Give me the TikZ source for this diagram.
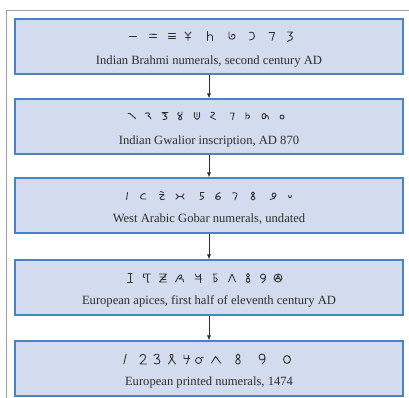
\documentclass[tikz,border=0pt]{standalone}
\usepackage{fontspec}
\setmainfont{Liberation Serif}
\usetikzlibrary{arrows.meta}
\definecolor{boxfill}{RGB}{211,220,238}
\definecolor{boxline}{RGB}{72,132,194}
\definecolor{framegray}{RGB}{160,160,160}
\definecolor{ink}{RGB}{45,45,45}
\tikzset{
  box/.style={draw=boxline, fill=boxfill, line width=1.1pt, minimum width=388pt, minimum height=55pt, inner sep=0pt},
  captext/.style={font=\fontsize{12.6}{14}\selectfont, text=ink, inner sep=0pt},
  glyph/.style={draw=ink, line width=0.85pt, line cap=round, line join=round},
  arr/.style={draw=ink, line width=0.7pt, -{Latex[length=5pt,width=4pt]}},
}
\begin{document}
\begin{tikzpicture}[x=1pt,y=-1pt]
\useasboundingbox (0,0) rectangle (409,398);
\draw[framegray, line width=0.9pt] (6,398) -- (6,10) -- (409,10);

\node[box] (b1) at (209,46.5) {};
\node[box] (b2) at (209,126.5) {};
\node[box] (b3) at (209,205.5) {};
\node[box] (b4) at (209,287.5) {};
\node[box] (b5) at (209,368.5) {};

\draw[arr] (b1.south) -- (b2.north);
\draw[arr] (b2.south) -- (b3.north);
\draw[arr] (b3.south) -- (b4.north);
\draw[arr] (b4.south) -- (b5.north);

\node[captext] (c1) at (209,61) {Indian Brahmi numerals, second century AD};
\node[captext] (c2) at (209,141) {Indian Gwalior inscription, AD 870};
\node[captext] (c3) at (209,219) {West Arabic Gobar numerals, undated};
\node[captext] (c4) at (209,301) {European apices, first half of eleventh century AD};
\node[captext] (c5) at (209,382) {European printed numerals, 1474};

% Row 1: Brahmi
\draw[glyph, shift={(133,36)}] (-3.5,0.5) -- (3.5,0.5);
\draw[glyph, shift={(153,36)}] (-3.5,-1.8) .. controls (0,-2.6) .. (3.5,-1.5) (-3.5,1.5) -- (3.5,1.5);
\draw[glyph, shift={(172,36)}] (-3.5,-2.5) -- (3.5,-2.5) (-3.5,0) -- (3.5,0) (-3.5,2.5) -- (3.5,2.5);
\draw[glyph, shift={(188,36)}] (-3,-4) -- (0,-0.5) -- (3,-4) (0,-0.5) -- (0,4.5) (-2.5,1.5) -- (2.5,1.5);
\draw[glyph, shift={(210,36)}] (-2.5,-4.5) -- (-2.5,4.5) (-2.5,0.5) .. controls (-1,-2) and (2.5,-2) .. (2.5,1) -- (2.5,4.5);
\draw[glyph, shift={(232,36)}] (-3,-4) -- (-3,1) .. controls (-3,4) and (3,4) .. (3,0.5) .. controls (3,-2.5) and (-0.5,-2.5) .. (-0.5,0.5);
\draw[glyph, shift={(252,36)}] (-2.5,-3.5) .. controls (1,-5) and (3,-2) .. (2.5,0.5) .. controls (2,3) and (0,4) .. (-2.5,4);
\draw[glyph, shift={(272,36)}] (-3,-3.5) -- (2.5,-3.5) .. controls (1.5,0) and (0.5,2) .. (0,4.5);
\draw[glyph, shift={(290,36)}] (-2.5,-4) -- (2.5,-4) -- (-0.5,-0.5) .. controls (3.5,-0.5) and (3.5,4.5) .. (-1,4.5) .. controls (-2,4.7) .. (-2.5,5.5);

% Row 2: Gwalior
\draw[glyph, shift={(132,116)}] (-4,-2.5) .. controls (-3,-3.2) .. (-2,-2.5) -- (3.5,2.5);
\draw[glyph, shift={(148,116)}] (-2.5,-2.5) .. controls (0,-4.5) and (3.5,-2.5) .. (0,0) .. controls (1.5,0) and (2.5,1.5) .. (3,3);
\draw[glyph, shift={(165,116)}] (-3,-3.5) -- (3,-3.5) (-2.5,-2) .. controls (0,-3) and (3,-2) .. (-0.5,0) .. controls (3.5,0.5) and (2.5,4) .. (-2,3.5);
\draw[glyph, shift={(180,116)}] (-1,-3.5) .. controls (-3,-3.5) and (-3,-1) .. (0,0) .. controls (3,1.5) and (2,4) .. (0,4) .. controls (-2,4) and (-2,1.5) .. (0,0) .. controls (2,-1) and (2.5,-3) .. (2,-4);
\draw[glyph, shift={(197,116)}] (-2.5,-3.5) .. controls (-3.5,1) and (-1.5,3.5) .. (0,3.5) .. controls (2,3.5) and (3,1) .. (2.5,-3.5) (0,-3.5) -- (0,0.5);
\draw[glyph, shift={(213,116)}] (-2,-3.5) .. controls (1,-4.5) and (3,-2.5) .. (0,-1) -- (-2.5,1) -- (2.5,3.5);
\draw[glyph, shift={(232,116)}] (-2,-3) -- (2,-3) -- (0.5,3.5);
\draw[glyph, shift={(248,116)}] (-2,-3.5) -- (-2,3) (-2,-0.5) .. controls (1,-2.5) and (3,1) .. (0,2.5);
\draw[glyph, shift={(265,116)}] (-3,1) .. controls (-3,-3.5) and (1,-3.5) .. (1,0) .. controls (1,3.5) and (-3,3.5) .. (-3,1) (0,0.5) .. controls (2.5,-2) and (4,1) .. (3.5,3);
\draw[glyph, shift={(282,116)}] (0,1) circle[radius=2pt];

% Row 3: Gobar
\draw[glyph, shift={(127,196)}] (0.5,-3.5) -- (-0.5,3.5);
\draw[glyph, shift={(143,196)}] (2.5,-2) .. controls (1,-3.5) and (-2.5,-1) .. (-2.5,1.5) .. controls (-2.5,3) and (0,3.5) .. (3,3);
\draw[glyph, shift={(162,196)}] (-1.5,-4.5) -- (1.5,-3.5) (-2.5,-1.5) -- (2,-1.5) -- (-2,2) .. controls (-2,4) and (2,4) .. (2.5,3);
\draw[glyph, shift={(180,196)}] (-4,-2) -- (-1.5,0.5) -- (-4,3) (-1.5,0.5) -- (2,0.5) (4,-2) -- (2,0.5) -- (4,3);
\draw[glyph, shift={(202,196)}] (2,-3.5) -- (-1.5,-3.5) -- (-1.5,0) .. controls (2.5,-1) and (3,3.5) .. (-2,3.5);
\draw[glyph, shift={(218,196)}] (2,-3.5) .. controls (-1,-3) and (-3,0) .. (-2.5,2) .. controls (-2,4) and (2.5,4) .. (2.5,1.5) .. controls (2.5,-0.5) and (-1,-0.5) .. (-2.3,1.5);
\draw[glyph, shift={(235,196)}] (-2.5,-3) .. controls (1,-4) and (3,-2.5) .. (1.5,0) .. controls (0.5,2) and (0,3) .. (0,4);
\draw[glyph, shift={(253,196)}] (0,0) .. controls (-2.5,-1.5) and (-1.5,-4) .. (0,-4) .. controls (1.5,-4) and (2.5,-1.5) .. (0,0) .. controls (-3,1.5) and (-2,4) .. (0,4) .. controls (2,4) and (3,1.5) .. (0,0);
\draw[glyph, shift={(273,196)}] (1,-1) circle[radius=2pt] (3,-1) .. controls (3,2) and (0,3.5) .. (-3,3.5);
\draw[glyph, shift={(290,196)}] (-1.5,-0.5) .. controls (-1.5,2.5) and (1.5,2.5) .. (1.5,-0.5);

% Row 4: apices
\draw[glyph, shift={(130,278)}] (0,-4.5) -- (0,4.5) (-2,-4.5) -- (2,-4.5) (-2.5,4.5) -- (2.5,4.5);
\draw[glyph, shift={(147,278)}] (-3.5,-4) -- (3.5,-4) (0.5,-4) -- (0.5,3.5) .. controls (0.5,4.5) .. (2,4) (-3.5,-4) .. controls (-4,-1) .. (-2,0);
\draw[glyph, shift={(163,278)}] (-3.5,-4) -- (3.5,-4) -- (-3.5,4) -- (3.5,4) (-3,-1) -- (3,-1) (-2,1.5) -- (3,1.5);
\draw[glyph, shift={(180,278)}] (-4.5,4) .. controls (-2,0) and (-1,-4) .. (1,-3) .. controls (3,-2) and (1,1) .. (-1,1) -- (3,1) -- (3.5,4);
\draw[glyph, shift={(198,278)}] (-2.5,-4) .. controls (-3,0) and (2.5,0) .. (2.5,-4) -- (2.5,4.5) (-3,1) -- (4,1);
\draw[glyph, shift={(215,278)}] (-2,-4) -- (2,-4) (-1,-4) -- (-1,4) (-1,0) .. controls (3,-1.5) and (3.5,4) .. (-1,4);
\draw[glyph, shift={(232,278)}] (-3.5,4) -- (0,-4) -- (3.5,4);
\draw[glyph, shift={(248,278)}] (0,0) .. controls (-2.5,-1.5) and (-1.5,-4.5) .. (0,-4.5) .. controls (1.5,-4.5) and (2.5,-1.5) .. (0,0) .. controls (-3,1.5) and (-2,4.5) .. (0,4.5) .. controls (2,4.5) and (3,1.5) .. (0,0);
\draw[glyph, shift={(263,278)}] (0,-1.5) circle[radius=2.5pt] (2.5,-1.5) .. controls (2.5,2) .. (-1,4.5);
\draw[glyph, shift={(278,278)}] (0,0) circle[radius=4pt] (-2.5,2) -- (0,-2.5) -- (2.5,2) (-1.5,0.5) -- (1.5,0.5);

% Row 5: printed 1474
\draw[glyph, shift={(125,359)}] (1.2,-5) -- (-1.2,5);
\draw[glyph, shift={(143,359)}] (-3,-2.5) .. controls (-2.5,-5.5) and (3.5,-5.5) .. (2.5,-1.5) .. controls (2,0.5) and (-1,3) .. (-3,5) -- (3.5,5);
\draw[glyph, shift={(157,359)}] (-3,-3.5) .. controls (-1,-6) and (3.5,-5) .. (1.5,-2) .. controls (1,-1) .. (-0.5,-0.5) .. controls (4,-0.5) and (4,5.5) .. (-0.5,5) .. controls (-1.5,5) .. (-3,4);
\draw[glyph, shift={(172,359)}] (-3.5,5) -- (1,-2) .. controls (2,-4) and (0,-5.5) .. (-1.5,-4.5) .. controls (-3,-3.5) and (-1,-1) .. (3.5,5);
\draw[glyph, shift={(187,359)}] (-3,-4) -- (-3,-0.5) -- (3,-0.5) (1.5,-3.5) .. controls (1,0) and (1.5,3) .. (-0.5,5);
\draw[glyph, shift={(199,359)}] (-0.5,1.5) circle[radius=3pt] (2.5,-1.5) -- (4.5,-1.8);
\draw[glyph, shift={(216,359)}] (-4.5,4) -- (-0.5,-2.5) -- (4.5,4);
\draw[glyph, shift={(238,359)}] (0,0) .. controls (-3,-1.5) and (-2,-5) .. (0,-5) .. controls (2,-5) and (3,-1.5) .. (0,0) .. controls (-3.5,1.5) and (-2.5,5) .. (0,5) .. controls (2.5,5) and (3.5,1.5) .. (0,0);
\draw[glyph, shift={(262,359)}] (0,-2) circle[radius=3pt] (3,-2) .. controls (3,2) .. (0,5);
\draw[glyph, shift={(287,359)}] (0,0.5) ellipse[x radius=3.5pt, y radius=4pt];
\end{tikzpicture}
\end{document}
